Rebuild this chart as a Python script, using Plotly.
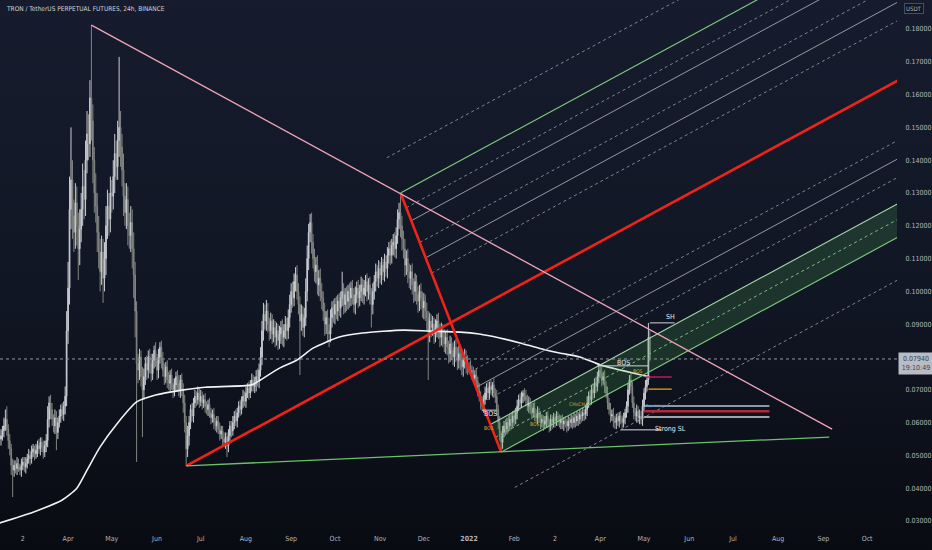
import base64
import pandas as pd
import plotly.graph_objects as go

# ---------------- data (prices in 1e-4 USDT) ----------------
START_DATE = "2021-02-14"
FIRST_OPEN_E4 = 550

close_e4 = [
    560, 575, 590, 610, 580, 545, 520, 470, 455, 470,
    460, 475, 465, 455, 470, 480, 465, 475, 490, 500,
    490, 510, 520, 505, 515, 530, 520, 540, 525, 510,
    530, 545, 610, 660, 640, 610, 590, 615, 570, 600,
    620, 640, 625, 650, 680,
    880, 1010, 1250, 1340, 1230,
    1180, 1270, 1200, 1130, 1190, 1250, 1320, 1280, 1400, 1480,
    1450, 1590, 1520, 1400, 1300, 1260, 1180, 1120, 1060, 1120,
    1040, 1100, 1200, 1260, 1220, 1300, 1290, 1350, 1420, 1380,
    1460, 1500, 1440, 1370, 1290, 1240, 1280, 1200, 1170, 1210,
    1130, 1050, 940, 780,
    760, 800, 740, 700, 740, 780,
    760, 800, 780, 750, 790, 820, 790, 760, 800, 830,
    790, 760, 740, 770, 730, 720, 745, 720, 700, 715,
    740, 720, 700, 730, 700, 660, 600, 520, 560,
    600, 640, 620, 660, 680, 670, 690, 665, 680, 660,
    670, 650, 640, 655, 630, 615, 625, 600, 590, 605,
    580, 565, 575, 550, 540, 555, 530, 560, 590, 575,
    600, 620, 605, 630, 650, 640, 665, 680, 665, 690,
    705, 690, 715, 730, 710, 720,
    740, 730, 760, 800, 880, 930, 910, 940, 900, 880,
    910, 870, 890, 860, 880, 850, 870, 890, 860, 880,
    900, 880, 920, 960, 1000, 980, 1030, 1050, 1000, 960,
    910, 930, 890, 920, 1000, 1100, 1180, 1210, 1150, 1100,
    1060, 1080, 1020, 1040, 1000, 980, 940, 900, 920, 880,
    870, 920, 950, 930, 960, 940, 970, 950, 980, 1000,
    960, 990, 970, 1000, 980, 1010, 990, 960, 990, 1010,
    980, 1000, 1020, 990, 1010, 1030, 1000, 1020, 990, 960,
    1000, 1030, 1060, 1040, 1070, 1050, 1080, 1060, 1090, 1070,
    1110, 1130, 1110, 1140, 1150, 1130, 1170, 1220, 1240, 1200,
    1160, 1130, 1080, 1100, 1060, 1040, 1060, 1020, 1000, 1030,
    990, 970, 1000, 980, 950, 970, 940, 920, 880, 910,
    890, 900, 870, 890, 910, 880, 860, 880, 860, 840,
    860, 830, 810, 840, 820, 800, 830, 810, 790, 810,
    790, 770, 790, 800, 780, 770,
    770, 760, 750, 735, 745, 725, 700, 680, 660, 650,
    670, 690, 705, 690, 710, 700, 715, 690, 680, 640,
    600, 560, 540, 570, 590, 580, 600, 590, 610, 600,
    620, 610, 630, 650, 670, 660, 680, 690, 680, 670,
    650, 660, 640, 630, 645, 625, 615, 630, 615, 600,
    610, 595, 605, 620, 600, 590, 610, 600, 615, 605,
    620, 610, 600, 610, 595, 605, 600, 590, 605, 600,
    610, 600, 615, 605, 620, 610, 625, 620, 630, 625,
    640, 660, 680, 670, 700, 690, 720, 710, 740, 760,
    750, 730, 740, 710, 690, 660, 640, 620, 625, 605,
    600, 615, 605, 620, 610, 600, 615, 630, 650, 700,
    730, 710, 660, 630, 620, 635, 615, 620, 610, 650,
    690, 710, 730, 860, 797,
]

up_wick_e4 = [
    20, 15, 25, 30, 40, 15, 20, 15, 20, 15,
    15, 20, 15, 10, 20, 15, 15, 20, 15, 20,
    15, 20, 15, 10, 20, 15, 20, 15, 15, 20,
    15, 20, 40, 20, 25, 20, 15, 25, 20, 15,
    20, 15, 20, 15, 30,
    60, 80, 100, 160, 60,
    50, 60, 50, 40, 60, 50, 70, 50, 60, 70,
    60, 54, 222, 50, 40, 60, 40, 50, 40, 50,
    40, 50, 60, 50, 40, 50, 40, 50, 60, 40,
    60, 215, 50, 40, 50, 40, 50, 40, 40, 50,
    40, 50, 40, 30,
    30, 25, 20, 30, 25, 20,
    25, 20, 25, 30, 20, 15, 25, 20, 25, 15,
    20, 25, 20, 15, 20, 25, 15, 20, 15, 20,
    15, 20, 25, 15, 20, 20, 25, 20, 30,
    20, 15, 20, 15, 20, 15, 20, 15, 20, 15,
    15, 20, 15, 15, 20, 15, 15, 20, 15, 15,
    15, 20, 15, 15, 20, 15, 15, 20, 15, 15,
    20, 15, 20, 15, 15, 20, 15, 20, 15, 20,
    15, 20, 15, 20, 15, 20,
    20, 25, 20, 30, 30, 35, 30, 34, 25, 20,
    25, 20, 25, 20, 25, 20, 25, 20, 25, 20,
    25, 20, 25, 30, 25, 30, 25, 24, 30, 25,
    25, 30, 25, 30, 40, 40, 26, 26, 30, 25,
    30, 25, 30, 25, 30, 25, 20, 25, 20, 25,
    20, 25, 20, 25, 20, 25, 20, 25, 20, 60,
    25, 20, 25, 20, 25, 20, 25, 20, 25, 20,
    25, 20, 25, 20, 25, 20, 25, 20, 25, 20,
    25, 20, 25, 20, 25, 20, 25, 20, 25, 20,
    25, 20, 25, 20, 25, 30, 25, 30, 30, 60,
    30, 25, 30, 25, 30, 25, 20, 25, 20, 25,
    20, 25, 20, 25, 20, 25, 20, 25, 20, 25,
    20, 25, 20, 25, 20, 25, 20, 25, 20, 25,
    20, 25, 20, 25, 20, 25, 20, 25, 20, 25,
    20, 25, 20, 25, 20, 25,
    15, 20, 15, 20, 15, 20, 15, 20, 15, 20,
    15, 20, 15, 20, 15, 20, 9, 20, 15, 20,
    15, 20, 15, 20, 15, 20, 15, 20, 15, 20,
    15, 20, 15, 20, 15, 20, 15, 9, 15, 20,
    15, 20, 15, 20, 15, 20, 15, 20, 15, 20,
    15, 12, 15, 12, 15, 12, 15, 12, 15, 12,
    15, 12, 15, 12, 15, 12, 15, 12, 15, 12,
    15, 12, 15, 12, 15, 12, 15, 12, 15, 12,
    15, 20, 15, 20, 15, 20, 15, 20, 15, 15,
    15, 20, 15, 20, 15, 20, 15, 20, 15, 20,
    15, 12, 15, 12, 15, 12, 15, 12, 15, 20,
    15, 20, 15, 20, 15, 20, 15, 20, 15, 20,
    15, 20, 15, 44, 20,
]

down_wick_e4 = [
    20, 15, 20, 15, 20, 25, 20, 30, 82, 20,
    15, 20, 15, 15, 20, 15, 15, 20, 15, 15,
    20, 15, 15, 20, 15, 20, 15, 20, 15, 20,
    15, 20, 20, 25, 30, 20, 20, 25, 54, 20,
    15, 20, 15, 20, 25,
    30, 40, 50, 60, 70,
    60, 50, 60, 95, 50, 40, 50, 60, 50, 40,
    50, 40, 60, 70, 60, 50, 60, 50, 60, 40,
    75, 40, 50, 40, 50, 40, 50, 40, 50, 40,
    40, 50, 60, 50, 60, 40, 50, 60, 40, 50,
    60, 70, 80, 300,
    40, 30, 30, 144, 30, 25,
    30, 25, 30, 25, 20, 25, 20, 30, 25, 20,
    25, 20, 25, 20, 25, 20, 25, 20, 25, 20,
    20, 25, 20, 25, 20, 30, 30, 52, 25,
    30, 20, 15, 20, 15, 20, 15, 20, 15, 20,
    15, 20, 15, 20, 15, 20, 15, 20, 15, 20,
    15, 20, 15, 20, 15, 20, 35, 20, 15, 20,
    15, 20, 15, 20, 15, 20, 15, 20, 15, 20,
    15, 20, 15, 20, 15, 20,
    25, 20, 25, 20, 25, 30, 25, 30, 25, 30,
    25, 30, 25, 30, 25, 29, 25, 30, 25, 30,
    25, 30, 25, 30, 25, 30, 25, 30, 25, 30,
    165, 30, 25, 30, 25, 30, 35, 30, 35, 30,
    30, 35, 30, 35, 30, 35, 30, 35, 30, 35,
    40, 25, 30, 25, 30, 25, 30, 25, 30, 25,
    30, 25, 30, 25, 30, 25, 30, 25, 30, 25,
    30, 25, 30, 25, 30, 25, 30, 25, 30, 70,
    30, 25, 30, 25, 30, 25, 30, 25, 30, 25,
    30, 25, 30, 25, 30, 25, 30, 25, 30, 35,
    35, 30, 35, 30, 35, 30, 35, 30, 35, 30,
    30, 35, 30, 35, 30, 35, 30, 40, 150, 35,
    30, 25, 30, 25, 30, 25, 30, 25, 30, 25,
    30, 25, 30, 25, 30, 25, 30, 25, 30, 25,
    30, 25, 30, 25, 30, 25,
    20, 15, 20, 15, 20, 15, 20, 15, 20, 15,
    20, 15, 20, 15, 20, 15, 20, 15, 20, 15,
    20, 15, 30, 20, 15, 20, 15, 20, 15, 20,
    15, 20, 15, 20, 15, 20, 15, 20, 15, 20,
    15, 20, 15, 20, 15, 20, 15, 20, 15, 20,
    15, 20, 15, 20, 15, 20, 15, 20, 15, 20,
    15, 20, 15, 20, 15, 20, 15, 20, 15, 20,
    15, 20, 15, 20, 15, 20, 15, 20, 15, 20,
    15, 20, 15, 20, 15, 20, 15, 20, 15, 20,
    15, 20, 15, 20, 15, 20, 15, 20, 15, 20,
    19, 20, 15, 20, 15, 20, 15, 20, 15, 20,
    15, 20, 15, 20, 15, 20, 15, 20, 15, 20,
    15, 20, 15, 15, 10,
]

# moving average
ma_dates = ["2021-02-13", "2021-03-08", "2021-03-28", "2021-04-07", "2021-04-14",
            "2021-04-23", "2021-05-05", "2021-05-18", "2021-05-31", "2021-06-18",
            "2021-07-04", "2021-08-05", "2021-08-11", "2021-08-24", "2021-09-05",
            "2021-09-16", "2021-10-04", "2021-10-20", "2021-11-17", "2021-12-05",
            "2021-12-26", "2022-01-08", "2022-01-22", "2022-02-05", "2022-02-18",
            "2022-03-04", "2022-03-18", "2022-04-01", "2022-04-15", "2022-05-05"]
ma_vals = [0.0294, 0.0327, 0.0364, 0.0400, 0.0455,
           0.0526, 0.0599, 0.0663, 0.0684, 0.0699,
           0.0708, 0.0715, 0.0730, 0.0766, 0.0791,
           0.0827, 0.0861, 0.0873, 0.0882, 0.0879,
           0.0876, 0.0870, 0.0858, 0.0843, 0.0827,
           0.0812, 0.0800, 0.0776, 0.0760, 0.0739]

# drawings (anchor points in date / price)
pink_trend = [("2021-04-17", 0.1812), ("2022-09-07", 0.0580)]
green_trend = [("2021-06-21", 0.0468), ("2022-09-05", 0.0556)]
fork_A = ("2021-06-21", 0.0468)
fork_B = ("2021-11-15", 0.1300)
fork_C = ("2022-01-23", 0.0510)
fork_levels_up = [0.382, 0.5, 0.618, 0.786, 0.886, 1.0, 1.272]
fork_levels_dn = [-0.382, -0.5, -0.618, -0.786, -0.886, -1.0, -1.272]

last_price = 0.0794
last_time = "19:10:49"

smc_levels = [  # (start, end, price, colour, width)
    ("2022-03-30", "2022-05-04", 0.0773, "#d1d4dc", 1),
    ("2022-05-05", "2022-05-22", 0.0904, "#d1d4dc", 1),
    ("2022-05-02", "2022-05-20", 0.0739, "#c2185b", 1.5),
    ("2022-05-04", "2022-05-20", 0.0702, "#c98a1e", 1.5),
    ("2022-05-01", "2022-07-26", 0.0651, "#b8c4d6", 1.5),
    ("2022-05-01", "2022-07-26", 0.0635, "#b0283a", 2.5),
    ("2022-05-01", "2022-07-26", 0.0617, "#d1d4dc", 1.5),
    ("2022-04-15", "2022-05-13", 0.0578, "#9598a1", 1.5),
    ("2022-01-10", "2022-01-20", 0.0638, "#d1d4dc", 1),
]

month_ticks = pd.date_range("2021-03-01", "2022-10-01", freq="MS")
month_labels = ["2", "Apr", "May", "Jun", "Jul", "Aug", "Sep", "Oct", "Nov", "Dec",
                "<b>2022</b>", "Feb", "2", "Apr", "May", "Jun", "Jul", "Aug", "Sep", "Oct"]
price_ticks = [0.03, 0.04, 0.05, 0.06, 0.07, 0.09, 0.10, 0.11, 0.12, 0.13,
               0.14, 0.15, 0.16, 0.17, 0.18]

X_RANGE = ["2021-02-13 07:30", "2022-10-21 12:00"]
Y_RANGE = [0.02787, 0.18884]

# ---------------- build ----------------
n = len(close_e4)
dates = pd.date_range(START_DATE, periods=n, freq="D")
close = [c / 1e4 for c in close_e4]
opens = [FIRST_OPEN_E4 / 1e4] + close[:-1]
high = [max(o, c) + w / 1e4 for o, c, w in zip(opens, close, up_wick_e4)]
low = [min(o, c) - w / 1e4 for o, c, w in zip(opens, close, down_wick_e4)]

T0 = pd.Timestamp(START_DATE)


def tnum(d):
    return (pd.Timestamp(d) - T0) / pd.Timedelta(days=1)


def tdate(v):
    return T0 + pd.Timedelta(days=float(v))


FONT = "DejaVu Sans Condensed, Liberation Sans Narrow, Liberation Sans, sans-serif"
fig = go.Figure()

fig.add_trace(go.Candlestick(
    x=dates, open=opens, high=high, low=low, close=close,
    increasing=dict(line=dict(color="#c9ccd2", width=1), fillcolor="#c9ccd2"),
    decreasing=dict(line=dict(color="#82857f", width=1), fillcolor="#82857f"),
    hoverinfo="skip", showlegend=False))

fig.add_trace(go.Scatter(x=ma_dates, y=ma_vals, mode="lines",
                         line=dict(color="#f2f2f2", width=1.6, shape="spline", smoothing=0.6),
                         hoverinfo="skip", showlegend=False))

# pitchfork geometry
ax_, ay_ = tnum(fork_A[0]), fork_A[1]
bx_, by_ = tnum(fork_B[0]), fork_B[1]
cx_, cy_ = tnum(fork_C[0]), fork_C[1]
mx_, my_ = (bx_ + cx_) / 2, (by_ + cy_) / 2
slope = (my_ - ay_) / (mx_ - ax_)
x_end = tnum(X_RANGE[1]) + 10


def level_line(L):
    sx = mx_ + L * (bx_ - mx_)
    sy = my_ + L * (by_ - my_)
    return sx, sy, x_end, sy + slope * (x_end - sx)


def add_line(x0, y0, x1, y1, color, width, dash="solid"):
    fig.add_trace(go.Scatter(x=[tdate(x0), tdate(x1)], y=[y0, y1], mode="lines",
                             line=dict(color=color, width=width, dash=dash),
                             hoverinfo="skip", showlegend=False))


# green band between -0.786 and -1
s1 = level_line(-0.786)
s2 = level_line(-1.0)
fig.add_trace(go.Scatter(
    x=[tdate(s1[0]), tdate(s1[2]), tdate(s2[2]), tdate(s2[0]), tdate(s1[0])],
    y=[s1[1], s1[3], s2[3], s2[1], s1[1]],
    mode="lines", fill="toself", fillcolor="rgba(76,175,80,0.20)",
    line=dict(width=0), hoverinfo="skip", showlegend=False))

GREY = "#a3a7b1"
DASHC = "#8c909b"
GREEN = "#7fcf7f"
for L in fork_levels_up + fork_levels_dn:
    x0, y0, x1, y1 = level_line(L)
    a = abs(L)
    if a == 1.0:
        add_line(x0, y0, x1, y1, GREEN, 1.1)
    elif L == -0.786:
        add_line(x0, y0, x1, y1, "#a8d8a8", 1.1)
    elif L == -0.886:
        add_line(x0, y0, x1, y1, "#7fb98a", 1, "3px,3px")
    elif a in (0.5, 0.786):
        add_line(x0, y0, x1, y1, GREY, 0.9)
    else:
        add_line(x0, y0, x1, y1, DASHC, 0.9, "3px,3px")

# median and handle
add_line(ax_, ay_, x_end, ay_ + slope * (x_end - ax_), "#f0231a", 2.6)
add_line(bx_, by_, cx_, cy_, "#f0231a", 2.6)

# trend lines
add_line(tnum(pink_trend[0][0]), pink_trend[0][1], tnum(pink_trend[1][0]), pink_trend[1][1],
         "#f3a3b9", 1.3)
add_line(tnum(green_trend[0][0]), green_trend[0][1], tnum(green_trend[1][0]), green_trend[1][1],
         "#6cc26c", 1.3)

# last price dotted line
fig.add_trace(go.Scatter(x=X_RANGE, y=[last_price, last_price], mode="lines",
                         line=dict(color="#9598a1", width=1, dash="dot"),
                         hoverinfo="skip", showlegend=False))

for s, e, p, col, w in smc_levels:
    add_line(tnum(s), p, tnum(e), p, col, w)

# ---------------- annotations ----------------
ann = []


def txt(x, y, t, color="#e8e8e8", size=7, **kw):
    ann.append(dict(x=x, y=y, xref="x", yref="y", text=t, showarrow=False,
                    font=dict(family=FONT, size=size, color=color), **kw))


txt("2022-05-19", 0.0921, "SH")
txt("2022-04-17", 0.0782, "BOS")
txt("2022-04-27", 0.0756, "BOS", color="#d9a33a", size=5)
txt("2022-05-19", 0.0580, "Strong SL")
txt("2022-01-16", 0.0626, "BOS")
txt("2022-01-15", 0.0584, "BOS", color="#d9a33a", size=5)
txt("2022-02-15", 0.0596, "BOS", color="#d9a33a", size=5)
txt("2022-03-16", 0.0657, "CHoCH", color="#d9a33a", size=5)
txt("2022-05-09", 0.0653, "Equal Lows", color="#5b8fd6", size=4)

ann.append(dict(xref="paper", yref="paper", x=0.004, y=0.983, xanchor="left", yanchor="middle",
                text="TRON / TetherUS PERPETUAL FUTURES, 24h, BINANCE", showarrow=False,
                font=dict(family=FONT, size=6.5, color="#d1d4dc")))
ann.append(dict(xref="paper", yref="paper", x=1.0195, y=0.983, xanchor="center", yanchor="middle",
                text="USDT", showarrow=False, bgcolor="#131722", bordercolor="#4a4e5a",
                borderwidth=1, borderpad=1,
                font=dict(family=FONT, size=6, color="#b2b5be")))
ann.append(dict(xref="paper", yref="y", x=1.0, y=last_price, xanchor="left", yanchor="top",
                yshift=7, xshift=1,
                text=f"{last_price:.5f}<br>{last_time}", showarrow=False, align="center",
                bgcolor="#b9bcc4", borderpad=2, width=30,
                font=dict(family=FONT, size=7, color="#3b3f4b")))

# background gradient
svg = ('<svg xmlns="http://www.w3.org/2000/svg" width="10" height="100" '
       'preserveAspectRatio="none" viewBox="0 0 10 100"><defs>'
       '<linearGradient id="g" x1="0" y1="0" x2="0" y2="1">'
       '<stop offset="0" stop-color="#161c2d"/><stop offset="0.55" stop-color="#111624"/>'
       '<stop offset="1" stop-color="#090b12"/></linearGradient></defs>'
       '<rect width="10" height="100" fill="url(#g)"/></svg>')
bg_src = "data:image/svg+xml;base64," + base64.b64encode(svg.encode()).decode()

fig.update_layout(
    width=932, height=550,
    margin=dict(l=0, r=35, t=0, b=22),
    paper_bgcolor="#0b0d15", plot_bgcolor="rgba(0,0,0,0)",
    images=[dict(source=bg_src, xref="paper", yref="paper", x=0, y=1,
                 sizex=932 / 897, sizey=550 / 528, xanchor="left", yanchor="top",
                 sizing="stretch", layer="below")],
    annotations=ann,
    showlegend=False,
    hovermode=False,
    xaxis=dict(range=X_RANGE, type="date", rangeslider=dict(visible=False),
               showgrid=False, zeroline=False, showline=False,
               tickvals=month_ticks, ticktext=month_labels, ticks="outside",
               ticklen=4, tickcolor="rgba(0,0,0,0)",
               tickfont=dict(family=FONT, size=7, color="#b2b5be")),
    yaxis=dict(range=Y_RANGE, side="right", showgrid=False, zeroline=False, showline=False,
               tickvals=price_ticks, ticktext=[f"{v:.5f}" for v in price_ticks],
               ticks="outside", ticklen=6, tickcolor="rgba(0,0,0,0)",
               tickfont=dict(family=FONT, size=7, color="#b2b5be")),
)

fig.write_html(
    "out.html",
    config={"displayModeBar": False, "staticPlot": True},
    post_script=("document.documentElement.style.margin='0';"
                 "document.body.style.margin='0';document.body.style.padding='0';"
                 "document.body.style.overflow='hidden';"
                 "document.body.style.background='#0b0d15';"),
)
